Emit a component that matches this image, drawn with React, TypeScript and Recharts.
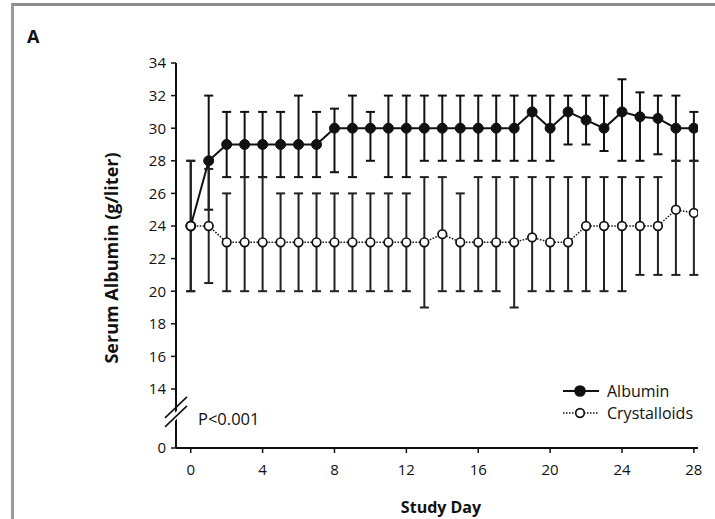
import { LineChart, Line, XAxis, YAxis, ErrorBar, ReferenceDot } from 'recharts'

const FONT = '"Open Sans", "DejaVu Sans", sans-serif'

// Study days 0..28
const days = [0, 1, 2, 3, 4, 5, 6, 7, 8, 9, 10, 11, 12, 13, 14, 15, 16, 17, 18, 19, 20, 21, 22, 23, 24, 25, 26, 27, 28]

const albumin = [24, 28, 29, 29, 29, 29, 29, 29, 30, 30, 30, 30, 30, 30, 30, 30, 30, 30, 30, 31, 30, 31, 30.5, 30, 31, 30.7, 30.6, 30, 30]
const albuminLow = [20, 25, 27, 27, 27, 27, 27, 27, 27.3, 27, 28, 27, 27, 28, 28, 28, 28, 28, 28, 28, 28, 29, 29, 28.6, 28, 28, 28.4, 28, 28]
const albuminHigh = [28, 32, 31, 31, 31, 31, 32, 31, 31.2, 32, 31, 32, 32, 32, 32, 32, 32, 32, 32, 32, 32, 32, 32, 32, 33, 32.2, 32, 32, 31]

const crystalloids = [24, 24, 23, 23, 23, 23, 23, 23, 23, 23, 23, 23, 23, 23, 23.5, 23, 23, 23, 23, 23.3, 23, 23, 24, 24, 24, 24, 24, 25, 24.8]
const crystalloidsLow = [20, 20.5, 20, 20, 20, 20, 20, 20, 20, 20, 20, 20, 20, 19, 20, 20, 20, 20, 19, 20, 20, 20, 20, 20, 20, 21, 21, 21, 21]
const crystalloidsHigh = [28, 27.5, 26, 27, 27, 26, 26, 26, 26, 26, 26, 26, 26, 27, 27, 26, 27, 27, 27, 27, 27, 27, 27, 27, 27, 27, 27, 28, 28]

const xTicks = [0, 4, 8, 12, 16, 20, 24, 28]
// the y axis is broken below 14; the bottom tick stands for 0
const Y_ZERO = 10.38
const yTicks = [Y_ZERO, 14, 16, 18, 20, 22, 24, 26, 28, 30, 32, 34]
const X_MIN = -0.82
const X_MAX = 28.23
const BREAK_AT = 12.6

const data = days.map((d, i) => ({
  day: d,
  albumin: albumin[i],
  albuminErr: [albumin[i] - albuminLow[i], albuminHigh[i] - albumin[i]],
  crystalloids: crystalloids[i],
  crystalloidsErr: [crystalloids[i] - crystalloidsLow[i], crystalloidsHigh[i] - crystalloids[i]],
}))

function AxisBreak(props: any) {
  const { cx, cy } = props
  return (
    <g>
      <polygon
        points={`${cx - 10},${cy + 10} ${cx + 10},${cy - 10} ${cx + 10},${cy - 2} ${cx - 10},${cy + 18}`}
        fill="#fff"
      />
      <line x1={cx - 11} y1={cy + 6} x2={cx + 11} y2={cy - 15} stroke="#111" strokeWidth={1.6} />
      <line x1={cx - 11} y1={cy + 15} x2={cx + 11} y2={cy - 6} stroke="#111" strokeWidth={1.6} />
    </g>
  )
}

function LegendRow({ label, filled }: { label: string; filled: boolean }) {
  return (
    <div style={{ display: 'flex', alignItems: 'center', height: 22 }}>
      <svg width={40} height={14}>
        <line
          x1={2}
          y1={7}
          x2={38}
          y2={7}
          stroke="#111"
          strokeWidth={filled ? 2 : 1.5}
          strokeDasharray={filled ? undefined : '1.5 1.5'}
        />
        <circle cx={19} cy={7} r={filled ? 5 : 4.3} fill={filled ? '#111' : '#fff'} stroke="#111" strokeWidth={1.7} />
      </svg>
      <span style={{ marginLeft: 6, fontSize: 16, color: '#111', fontFamily: FONT }}>{label}</span>
    </div>
  )
}

export default function App() {
  return (
    <div style={{ position: 'absolute', left: 0, top: 0, width: 715, height: 519, background: '#fff', overflow: 'hidden' }}>
      <div
        style={{
          position: 'absolute',
          left: 11,
          top: 3,
          width: 720,
          height: 530,
          borderTop: '3px solid #8c8c8c',
          borderLeft: '3px solid #9a9a9a',
        }}
      />
      <div style={{ position: 'absolute', left: 27, top: 24, fontSize: 18, fontWeight: 700, fontFamily: FONT, color: '#111' }}>
        A
      </div>
      <div style={{ position: 'absolute', left: 0, top: 0 }}>
        <LineChart width={715} height={519} data={data} margin={{ top: 63, right: 17, left: 136, bottom: 41 }}>
          <XAxis
            dataKey="day"
            type="number"
            domain={[X_MIN, X_MAX]}
            ticks={xTicks}
            allowDataOverflow
            height={30}
            tickSize={5}
            tickMargin={11}
            axisLine={{ stroke: '#111', strokeWidth: 2 }}
            tickLine={{ stroke: '#111', strokeWidth: 1.5 }}
            tick={{ fontSize: 15, fill: '#111', fontFamily: FONT }}
          />
          <YAxis
            type="number"
            domain={[Y_ZERO, 34]}
            ticks={yTicks}
            allowDataOverflow
            width={40}
            tickSize={5}
            tickMargin={5}
            tickFormatter={(v: number) => (v < 12 ? '0' : String(v))}
            axisLine={{ stroke: '#111', strokeWidth: 2 }}
            tickLine={{ stroke: '#111', strokeWidth: 1.5 }}
            tick={{ fontSize: 15, fill: '#111', fontFamily: FONT }}
          />
          <Line
            dataKey="albumin"
            type="linear"
            stroke="#111"
            strokeWidth={2}
            dot={{ r: 5, fill: '#111', stroke: '#111', strokeWidth: 1 }}
            activeDot={false}
            isAnimationActive={false}
          >
            <ErrorBar dataKey="albuminErr" width={4.5} stroke="#111" strokeWidth={2} isAnimationActive={false} />
          </Line>
          <Line
            dataKey="crystalloids"
            type="linear"
            stroke="#111"
            strokeWidth={1.5}
            strokeDasharray="1.5 1.5"
            dot={{ r: 4.3, fill: '#fff', stroke: '#111', strokeWidth: 1.7, strokeDasharray: '' }}
            activeDot={false}
            isAnimationActive={false}
          >
            <ErrorBar dataKey="crystalloidsErr" width={4.5} stroke="#222" strokeWidth={2} isAnimationActive={false} />
          </Line>
          <ReferenceDot x={X_MIN} y={BREAK_AT} ifOverflow="visible" shape={<AxisBreak />} />
        </LineChart>
      </div>
      <div style={{ position: 'absolute', left: 561, top: 380 }}>
        <LegendRow label="Albumin" filled />
        <LegendRow label="Crystalloids" filled={false} />
      </div>
      <div style={{ position: 'absolute', left: 198, top: 407, fontSize: 16.5, fontFamily: FONT, color: '#111' }}>
        P&lt;0.001
      </div>
      <div
        style={{
          position: 'absolute',
          left: 441,
          top: 507,
          transform: 'translate(-50%, -50%)',
          fontSize: 16,
          fontWeight: 700,
          fontFamily: FONT,
          color: '#111',
          whiteSpace: 'nowrap',
        }}
      >
        Study Day
      </div>
      <div
        style={{
          position: 'absolute',
          left: 111,
          top: 258,
          transform: 'translate(-50%, -50%) rotate(-90deg)',
          fontSize: 18,
          fontWeight: 700,
          fontFamily: FONT,
          color: '#111',
          whiteSpace: 'nowrap',
        }}
      >
        Serum Albumin (g/liter)
      </div>
    </div>
  )
}
